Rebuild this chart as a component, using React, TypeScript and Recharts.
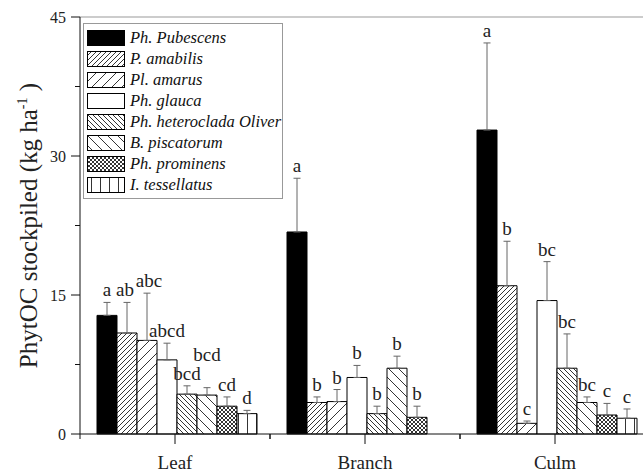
import {
  BarChart,
  Bar,
  XAxis,
  YAxis,
  ErrorBar,
  LabelList,
  Legend,
  ReferenceLine,
} from "recharts";

const SERIF = '"Liberation Serif", "Times New Roman", serif';

const categories = ["Leaf", "Branch", "Culm"];

// means, one-sided SE and significance letters, per species (Leaf, Branch, Culm)
const phPubescens = [12.8, 21.8, 32.8];
const phPubescensErr = [1.4, 5.8, 9.4];
const phPubescensSig = ["a", "a", "a"];

const pAmabilis = [10.9, 3.4, 16.0];
const pAmabilisErr = [3.3, 0.6, 4.8];
const pAmabilisSig = ["ab", "b", "b"];

const plAmarus = [10.1, 3.5, 1.15];
const plAmarusErr = [5.1, 1.3, 0.25];
const plAmarusSig = ["abc", "b", "c"];

const phGlauca = [8.0, 6.1, 14.4];
const phGlaucaErr = [1.8, 1.3, 4.2];
const phGlaucaSig = ["abcd", "b", "bc"];

const phHeteroclada = [4.3, 2.2, 7.1];
const phHeterocladaErr = [0.9, 0.8, 3.7];
const phHeterocladaSig = ["bcd", "b", "bc"];

const bPiscatorum = [4.2, 7.1, 3.4];
const bPiscatorumErr = [0.8, 1.3, 0.6];
const bPiscatorumSig = ["bcd", "b", "bc"];

const phProminens = [3.0, 1.8, 2.05];
const phProminensErr = [1.0, 1.2, 1.25];
const phProminensSig = ["cd", "b", "c"];

const iTessellatus = [2.2, null, 1.7];
const iTessellatusErr = [0.35, null, 1.0];
const iTessellatusSig = ["d", "", "c"];

const yTicks = [0, 7.5, 15, 22.5, 30, 37.5, 45];

const series = [
  { name: "Ph. Pubescens", values: phPubescens, err: phPubescensErr, sig: phPubescensSig, fill: "#000" },
  { name: "P. amabilis", values: pAmabilis, err: pAmabilisErr, sig: pAmabilisSig, fill: "url(#pat-fdense)" },
  { name: "Pl. amarus", values: plAmarus, err: plAmarusErr, sig: plAmarusSig, fill: "url(#pat-fwide)" },
  { name: "Ph. glauca", values: phGlauca, err: phGlaucaErr, sig: phGlaucaSig, fill: "#fff" },
  { name: "Ph. heteroclada Oliver", values: phHeteroclada, err: phHeterocladaErr, sig: phHeterocladaSig, fill: "url(#pat-bdense)" },
  { name: "B. piscatorum", values: bPiscatorum, err: bPiscatorumErr, sig: bPiscatorumSig, fill: "url(#pat-bwide)" },
  { name: "Ph. prominens", values: phProminens, err: phProminensErr, sig: phProminensSig, fill: "url(#pat-cross)" },
  { name: "I. tessellatus", values: iTessellatus, err: iTessellatusErr, sig: iTessellatusSig, fill: "url(#pat-vert)" },
];

const data = categories.map((cat, i) => {
  const row: Record<string, any> = { cat };
  series.forEach((s, k) => {
    row[`v${k}`] = s.values[i];
    row[`e${k}`] = s.values[i] == null ? [0, 0] : [0, s.err[i]];
    row[`l${k}`] = s.sig[i];
  });
  return row;
});

const CHART_W = 660;
const CHART_H = 473;
const MARGIN = { top: 17, right: 10, bottom: 0, left: 20 };
const Y_AXIS_W = 60;
const PLOT_LEFT = MARGIN.left + Y_AXIS_W;
const BAND = (CHART_W - MARGIN.left - MARGIN.right - Y_AXIS_W) / categories.length;

// letters that Origin nudged up/sideways to avoid overlap (series-category)
const LIFT: Record<string, number> = { "5-0": 21 };
const SHIFT: Record<string, number> = { "1-0": -2, "2-0": 2 };

function hatch(id: string, w: number, kind: "f" | "b" | "x" | "v") {
  let d = "";
  if (kind === "f" || kind === "x") d += `M-1,1 L1,-1 M0,${w} L${w},0 M${w - 1},${w + 1} L${w + 1},${w - 1} `;
  if (kind === "b" || kind === "x") d += `M-1,${w - 1} L1,${w + 1} M0,0 L${w},${w} M${w - 1},-1 L${w + 1},1 `;
  if (kind === "v") d += `M${w / 2},0 L${w / 2},${w}`;
  return (
    <pattern id={id} key={id} patternUnits="userSpaceOnUse" width={w} height={w}>
      <rect width={w} height={w} fill="#fff" />
      <path d={d} stroke="#000" strokeWidth={0.8} fill="none" />
    </pattern>
  );
}

const YTick = (props: any) => {
  const { x, y, payload } = props;
  const major = payload.value % 15 === 0;
  return (
    <g>
      <line x1={x - (major ? 9 : 5)} x2={x} y1={y} y2={y} stroke="#111" />
      {major && (
        <text x={x - 14} y={y} dy="0.35em" textAnchor="end" fontSize={16} fontFamily={SERIF} fill="#222">
          {payload.value}
        </text>
      )}
    </g>
  );
};

const XTick = (props: any) => {
  const { x, y, payload } = props;
  return (
    <g>
      <line x1={x} x2={x} y1={y} y2={y + 10} stroke="#111" />
      <line x1={x - BAND / 2} x2={x - BAND / 2} y1={y} y2={y + 5} stroke="#111" />
      <line x1={x + BAND / 2} x2={x + BAND / 2} y1={y} y2={y + 5} stroke="#111" />
      <text x={x} y={y + 35} textAnchor="middle" fontSize={19} fontFamily={SERIF} fill="#222">
        {payload.value}
      </text>
    </g>
  );
};

const YLabel = (props: any) => {
  const vb = props.viewBox || {};
  const cx = 37;
  const cy = vb.y + vb.height / 2;
  return (
    <text
      x={cx}
      y={cy}
      transform={`rotate(-90, ${cx}, ${cy})`}
      textAnchor="middle"
      fontSize={25}
      fontFamily={SERIF}
      fill="#222"
    >
      PhytOC stockpiled (kg ha
      <tspan dy={-10} fontSize={14}>-1</tspan>
      <tspan dy={10}> )</tspan>
    </text>
  );
};

function renderSig(p: any, k: number) {
  const { x, y, width, height, value } = p;
  if (!value || width == null) return null;
  const ci = Math.floor((x + width / 2 - PLOT_LEFT) / BAND);
  const v = series[k].values[ci];
  if (v == null) return null;
  const e = series[k].err[ci] || 0;
  const ppu = Math.abs(height) / v;
  const top = Math.min(y, y + height) - e * ppu;
  const lift = LIFT[`${k}-${ci}`] || 0;
  const shift = SHIFT[`${k}-${ci}`] || 0;
  return (
    <text
      x={x + width / 2 + shift}
      y={top - 6 - lift}
      textAnchor="middle"
      fontSize={19}
      fontFamily={SERIF}
      fill="#222"
    >
      {value}
    </text>
  );
}

const LegendBox = () => (
  <div
    style={{
      border: "1px solid #999",
      background: "#fff",
      padding: "3px 8px 3px 3px",
      fontFamily: SERIF,
      fontStyle: "italic",
      fontSize: 16.5,
      color: "#111",
      width: 187,
    }}
  >
    {series.map((s) => (
      <div key={s.name} style={{ display: "flex", alignItems: "center", height: 21, whiteSpace: "nowrap" }}>
        <svg width={38} height={16} style={{ marginRight: 5, flex: "none" }}>
          <rect x={0.5} y={0.5} width={37} height={15} fill={s.fill} stroke="#000" strokeWidth={1} />
        </svg>
        {s.name}
      </div>
    ))}
  </div>
);

export default function App() {
  return (
    <div
      style={{
        position: "fixed",
        left: 0,
        top: 0,
        width: 643,
        height: 473,
        overflow: "hidden",
        background: "#fff",
      }}
    >
      <BarChart width={CHART_W} height={CHART_H} data={data} margin={MARGIN} barGap={0} barCategoryGap={17}>
        <defs>
          {hatch("pat-fdense", 5, "f")}
          {hatch("pat-fwide", 10, "f")}
          {hatch("pat-bdense", 5, "b")}
          {hatch("pat-bwide", 10, "b")}
          {hatch("pat-cross", 4, "x")}
          {hatch("pat-vert", 9, "v")}
        </defs>
        <XAxis
          dataKey="cat"
          interval={0}
          height={39}
          axisLine={{ stroke: "#111" }}
          tickLine={false}
          tickSize={0}
          tickMargin={0}
          tick={<XTick />}
        />
        <YAxis
          width={Y_AXIS_W}
          domain={[0, 45]}
          ticks={yTicks}
          interval={0}
          axisLine={{ stroke: "#111" }}
          tickLine={false}
          tickSize={0}
          tickMargin={0}
          tick={<YTick />}
          label={(props: any) => <YLabel {...props} />}
        />
        <ReferenceLine y={45} stroke="#999" ifOverflow="visible" />
        <Legend
          layout="vertical"
          align="center"
          verticalAlign="middle"
          wrapperStyle={{ left: 83, top: 23, width: "auto", height: "auto" }}
          content={() => <LegendBox />}
        />
        {series.map((s, k) => (
          <Bar
            key={s.name}
            dataKey={`v${k}`}
            name={s.name}
            fill={s.fill}
            stroke="#000"
            strokeWidth={1}
            isAnimationActive={false}
          >
            <ErrorBar dataKey={`e${k}`} direction="y" width={3.5} stroke="#666" strokeWidth={1} isAnimationActive={false} />
            <LabelList dataKey={`l${k}`} content={(p: any) => renderSig(p, k)} />
          </Bar>
        ))}
      </BarChart>
    </div>
  );
}
